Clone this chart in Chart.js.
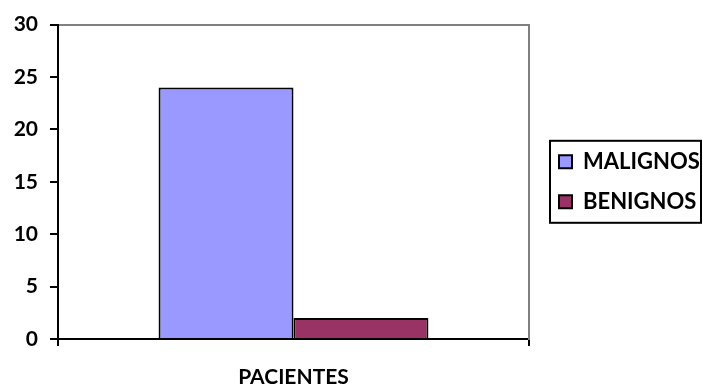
<!DOCTYPE html>
<html>
<head>
<meta charset="utf-8">
<script src="https://cdn.jsdelivr.net/npm/chart.js@4"></script>
<style>
  html, body { margin: 0; padding: 0; background: #fff; }
  #wrap { width: 703px; height: 389px; }
</style>
</head>
<body>
<div id="wrap"><canvas id="chart" width="703" height="389"></canvas></div>
<script>
// Patient counts by tumour type
const categories = ['PACIENTES'];
const seriesNames = ['MALIGNOS', 'BENIGNOS'];
const malignos = [24];
const benignos = [2];
const yMax = 30;
const yStep = 5;

const FAMILY = 'Lato, "Open Sans", sans-serif';
const AXIS_FONT = { family: FAMILY, size: 21, weight: 'bold' };
const LEGEND_FONT = { family: FAMILY, size: 22, weight: 'bold' };

// Frame drawn around the legend items
const legendFrame = {
  id: 'legendFrame',
  afterDraw(chart) {
    const boxes = chart.legend && chart.legend.legendHitBoxes;
    if (!boxes || !boxes.length) return;
    const first = boxes[0];
    const last = boxes[boxes.length - 1];
    const ctx = chart.ctx;
    const left = first.left - 9;
    const top = first.top - 10;
    const bottom = last.top + last.height + 10;
    const right = chart.width - 2;
    ctx.save();
    ctx.strokeStyle = '#000';
    ctx.lineWidth = 2;
    ctx.strokeRect(left, top, right - left, bottom - top);
    ctx.restore();
  }
};

const ctx = document.getElementById('chart').getContext('2d');

new Chart(ctx, {
  type: 'bar',
  data: {
    labels: categories,
    datasets: [
      {
        label: seriesNames[0],
        data: malignos,
        backgroundColor: '#9999ff',
        borderColor: '#000',
        borderWidth: 2,
        borderSkipped: 'start'
      },
      {
        label: seriesNames[1],
        data: benignos,
        backgroundColor: '#993366',
        borderColor: '#000',
        borderWidth: 2,
        borderSkipped: 'start'
      }
    ]
  },
  options: {
    responsive: false,
    animation: false,
    devicePixelRatio: 1,
    layout: { padding: 0 },
    datasets: {
      bar: { categoryPercentage: 0.573, barPercentage: 1 }
    },
    plugins: {
      legend: {
        position: 'right',
        fullSize: false,
        maxWidth: 162,
        labels: {
          color: '#000',
          font: LEGEND_FONT,
          boxWidth: 13,
          boxHeight: 13,
          padding: 18
        }
      },
      tooltip: { enabled: false }
    },
    scales: {
      x: {
        position: 'bottom',
        grid: {
          display: true,
          drawOnChartArea: false,
          drawTicks: true,
          tickLength: 7,
          color: '#000',
          lineWidth: 2
        },
        border: { color: '#000', width: 2 },
        ticks: { color: '#000', font: AXIS_FONT, padding: 19 },
        afterFit(scale) { scale.height = 50; }
      },
      x2: {
        type: 'linear',
        position: 'top',
        display: true,
        grid: { display: false },
        ticks: { display: false },
        border: { color: '#808080', width: 2 },
        afterFit(scale) { scale.height = 22; }
      },
      y: {
        min: 0,
        max: yMax,
        ticks: { stepSize: yStep, color: '#000', font: AXIS_FONT, padding: 12 },
        grid: {
          display: true,
          drawOnChartArea: false,
          drawTicks: true,
          tickLength: 8,
          color: '#000',
          lineWidth: 2
        },
        border: { color: '#000', width: 2 },
        afterFit(scale) { scale.width = 58; }
      },
      y2: {
        type: 'linear',
        position: 'right',
        display: true,
        grid: { display: false },
        ticks: { display: false },
        border: { color: '#808080', width: 2 },
        afterFit(scale) { scale.width = 12; }
      }
    }
  },
  plugins: [legendFrame]
});
</script>
</body>
</html>
